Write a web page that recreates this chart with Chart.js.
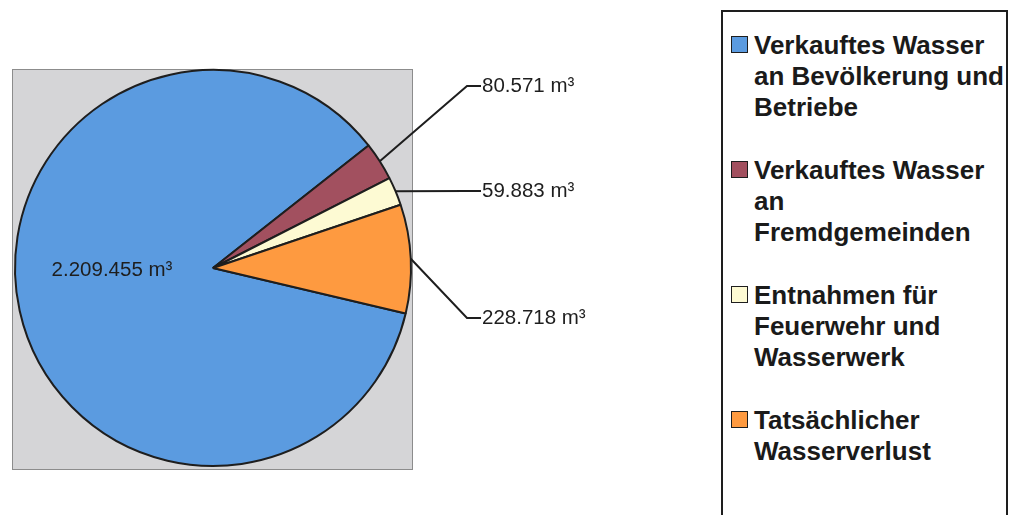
<!DOCTYPE html>
<html lang="de">
<head>
<meta charset="utf-8">
<title>Wasserbilanz</title>
<script src="https://cdn.jsdelivr.net/npm/chart.js@4.4.1/dist/chart.umd.min.js"></script>
<style>
    body {
        margin: 0;
        background: #fff;
        width: 1011px;
        height: 515px;
        overflow: hidden;
        position: relative;
        font-family: "Liberation Sans", Arial, sans-serif;
    }
    .chart-wrap {
        position: absolute;
        left: 0;
        top: 0;
        width: 700px;
        height: 515px;
    }
    .legend {
        position: absolute;
        left: 721px;
        top: 10px;
        width: 283px;
        height: 530px;
        border: 2px solid #1e1e1e;
        box-sizing: content-box;
    }
    .legend-item {
        position: relative;
        margin-bottom: 32px;
        padding-left: 31px;
        font-weight: bold;
        font-size: 26px;
        line-height: 31px;
        color: #1a1a1a;
    }
    .legend-item .box {
        position: absolute;
        left: 8px;
        top: 6px;
        width: 15px;
        height: 15px;
        border: 1.5px solid #1e1e1e;
    }
    .legend-list {
        position: absolute;
        left: 0;
        top: 18px;
    }
</style>
</head>
<body>
<div class="chart-wrap"><canvas id="water-chart"></canvas></div>
<div class="legend"><div class="legend-list" id="legend-list"></div></div>

<script>
// categories, split into the lines shown in the legend
const categories = [
    ['Verkauftes Wasser', 'an Bevölkerung und', 'Betriebe'],
    ['Verkauftes Wasser', 'an', 'Fremdgemeinden'],
    ['Entnahmen für', 'Feuerwehr und', 'Wasserwerk'],
    ['Tatsächlicher', 'Wasserverlust']
];
const volumes = [2209455, 80571, 59883, 228718];   // m³
const sliceColors = ['#5b9be0', '#a2505f', '#fdfad3', '#fe9a40'];

// label placement next to the pie (first label sits inside the big slice)
const labelY = [null, 86, 191, 318];
const elbowX = 467;

function formatVolume(v) {
    return String(v).replace(/\B(?=(\d{3})+(?!\d))/g, '.') + ' m³';
}

// gray square behind the pie
const squareBg = {
    id: 'squareBg',
    beforeDatasetsDraw(chart) {
        const arc = chart.getDatasetMeta(0).data[0];
        if (!arc) return;
        const r = arc.outerRadius;
        const ctx = chart.ctx;
        ctx.save();
        ctx.fillStyle = '#d5d5d7';
        ctx.fillRect(arc.x - r - 3, arc.y - r - 1, 2 * r + 4, 2 * r + 4);
        ctx.strokeStyle = '#8c8c8c';
        ctx.lineWidth = 1;
        ctx.strokeRect(arc.x - r - 3 + 0.5, arc.y - r - 1 + 0.5, 2 * r + 4, 2 * r + 4);
        ctx.restore();
    }
};

// value labels with leader lines
const valueLabels = {
    id: 'valueLabels',
    afterDatasetsDraw(chart) {
        const ctx = chart.ctx;
        const arcs = chart.getDatasetMeta(0).data;
        ctx.save();
        ctx.font = '20.5px "Liberation Sans", Arial, sans-serif';
        ctx.fillStyle = '#1e1e1e';
        ctx.textBaseline = 'middle';
        arcs.forEach((arc, i) => {
            const text = formatVolume(volumes[i]);
            if (labelY[i] === null) {
                ctx.textAlign = 'center';
                ctx.fillText(text, arc.x - 101, arc.y + 2);
                return;
            }
            const mid = (arc.startAngle + arc.endAngle) / 2;
            const px = arc.x + Math.cos(mid) * arc.outerRadius;
            const py = arc.y + Math.sin(mid) * arc.outerRadius;
            ctx.strokeStyle = '#1e1e1e';
            ctx.lineWidth = 2;
            ctx.beginPath();
            ctx.moveTo(px, py);
            ctx.lineTo(elbowX, labelY[i]);
            ctx.lineTo(elbowX + 14, labelY[i]);
            ctx.stroke();
            ctx.textAlign = 'left';
            ctx.fillText(text, elbowX + 15, labelY[i]);
        });
        ctx.restore();
    }
};

const ctx = document.getElementById('water-chart').getContext('2d');
new Chart(ctx, {
    type: 'pie',
    data: {
        labels: categories.map(c => c.join(' ')),
        datasets: [{
            data: volumes,
            backgroundColor: sliceColors,
            borderColor: '#1e1e1e',
            borderWidth: 2
        }]
    },
    options: {
        responsive: true,
        maintainAspectRatio: false,
        animation: false,
        rotation: 103.3,
        layout: {
            padding: { left: 14, right: 288, top: 69, bottom: 48 }
        },
        plugins: {
            legend: { display: false },
            tooltip: { enabled: false }
        }
    },
    plugins: [squareBg, valueLabels]
});

// legend on the right
const legendList = document.getElementById('legend-list');
categories.forEach((lines, i) => {
    const item = document.createElement('div');
    item.className = 'legend-item';
    const box = document.createElement('span');
    box.className = 'box';
    box.style.background = sliceColors[i];
    item.appendChild(box);
    lines.forEach(line => {
        const row = document.createElement('div');
        row.textContent = line;
        item.appendChild(row);
    });
    legendList.appendChild(item);
});
</script>
</body>
</html>
